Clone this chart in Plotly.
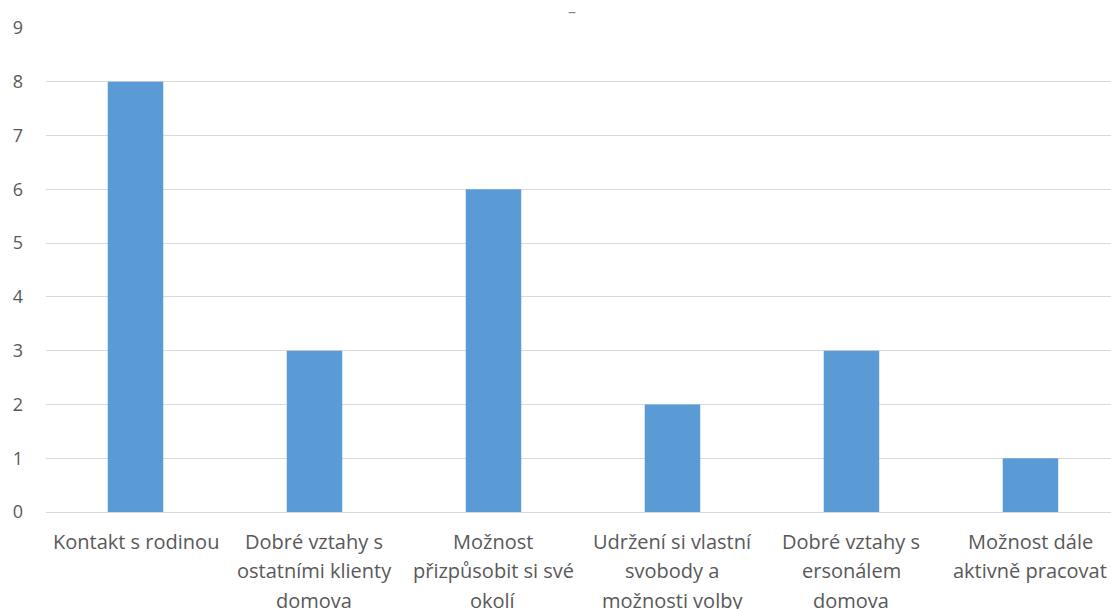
import plotly.graph_objects as go

categories = [
    "Kontakt s rodinou",
    "Dobré vztahy s<br>ostatními klienty<br>domova",
    "Možnost<br>přizpůsobit si své<br>okolí",
    "Udržení si vlastní<br>svobody a<br>možnosti volby",
    "Dobré vztahy s<br>ersonálem<br>domova",
    "Možnost dále<br>aktivně pracovat",
]
values = [8, 3, 6, 2, 3, 1]
y_ticks = list(range(0, 10))

BAR = "#5B9BD5"
GRID = "#D9D9D9"
TXT = "#595959"
FONT = "Open Sans"

fig = go.Figure()
fig.add_trace(go.Bar(
    x=list(range(len(categories))),
    y=values,
    marker=dict(color=BAR, line=dict(width=0)),
    width=0.31,
    hoverinfo="skip",
))

annotations = []
for i, cat in enumerate(categories):
    for j, line in enumerate(cat.split("<br>")):
        annotations.append(dict(
            x=i, y=0, xref="x", yref="paper",
            text=line, showarrow=False,
            xanchor="center", yanchor="middle",
            yshift=-29 - 29.5 * j,
            font=dict(family=FONT, size=20, color=TXT),
        ))
annotations.append(dict(
    x=0.494, y=1, xref="paper", yref="paper", text="–", showarrow=False,
    xanchor="center", yanchor="middle",
    yshift=17, font=dict(family=FONT, size=16, color="#7F7F7F"),
))

fig.update_layout(
    width=1111, height=609,
    margin=dict(l=46, r=0, t=28, b=97),
    paper_bgcolor="white", plot_bgcolor="white",
    showlegend=False,
    annotations=annotations,
    xaxis=dict(
        range=[-0.5, 5.45],
        showticklabels=False, showgrid=False, zeroline=False,
        showline=False, ticks="",
    ),
    yaxis=dict(
        range=[0, 9],
        tickvals=y_ticks,
        ticktext=[str(v) for v in y_ticks],
        showgrid=True, gridcolor=GRID, gridwidth=1,
        zeroline=True, zerolinecolor=GRID, zerolinewidth=1,
        showline=False, ticks="",
        ticklabelstandoff=22,
        tickfont=dict(family=FONT, size=18, color=TXT),
    ),
)

fig.write_html("out.html")
